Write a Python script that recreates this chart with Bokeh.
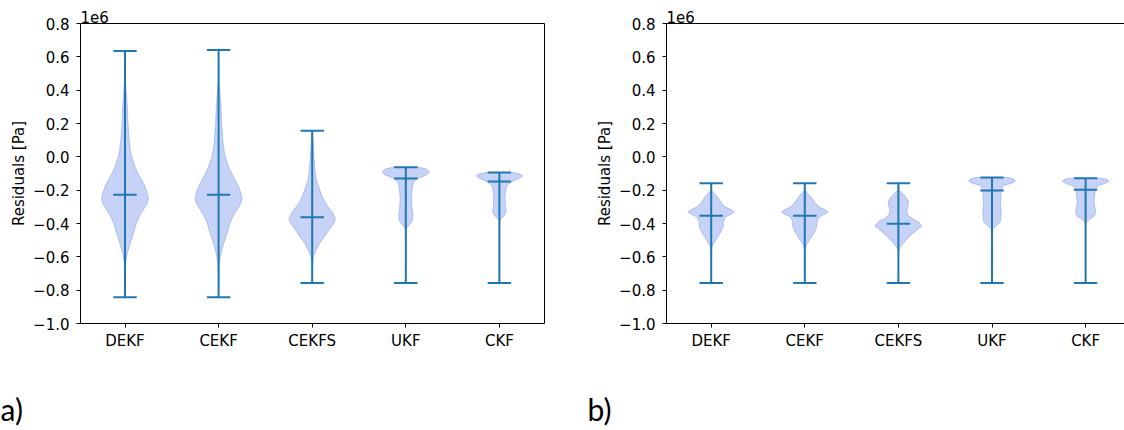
from bokeh.plotting import figure
from bokeh.models import Range1d, FixedTicker, CustomJSTickFormatter, LinearAxis
from bokeh.core.properties import value
from bokeh.layouts import row, column
from bokeh.embed import file_html
from bokeh.resources import INLINE

# Residuals in units of 1e6 Pa
categories = ["DEKF", "CEKF", "CEKFS", "UKF", "CKF"]
positions = [1, 2, 3, 4, 5]
y_ticks = [-1.0, -0.8, -0.6, -0.4, -0.2, 0.0, 0.2, 0.4, 0.6, 0.8]
panel_tags = ["a)", "b)"]

# panel a) extrema and mean
a_max = [0.635, 0.641, 0.156, -0.062, -0.094]
a_min = [-0.842, -0.842, -0.757, -0.757, -0.757]
a_mean = [-0.228, -0.228, -0.363, -0.130, -0.148]

# panel b) extrema and mean
b_max = [-0.158, -0.158, -0.158, -0.124, -0.128]
b_min = [-0.757, -0.757, -0.757, -0.757, -0.757]
b_mean = [-0.353, -0.353, -0.401, -0.202, -0.198]

# density profiles: (residual, relative density), top to bottom
dekf_a = [(0.635, 0.0), (0.45, 0.02), (0.40, 0.05), (0.30, 0.10), (0.20, 0.13),
          (0.10, 0.18), (0.04, 0.23), (0.0, 0.29), (-0.06, 0.43), (-0.10, 0.56),
          (-0.14, 0.72), (-0.18, 0.86), (-0.22, 0.96), (-0.25, 1.0), (-0.28, 0.95),
          (-0.31, 0.82), (-0.35, 0.64), (-0.40, 0.48), (-0.46, 0.36), (-0.52, 0.22),
          (-0.58, 0.10), (-0.64, 0.03), (-0.842, 0.0)]
cekf_a = [(0.641, 0.0), (0.45, 0.02), (0.40, 0.05), (0.30, 0.10), (0.20, 0.13),
          (0.10, 0.18), (0.04, 0.23), (0.0, 0.29), (-0.06, 0.43), (-0.10, 0.56),
          (-0.14, 0.72), (-0.18, 0.86), (-0.22, 0.96), (-0.25, 1.0), (-0.28, 0.95),
          (-0.31, 0.82), (-0.35, 0.64), (-0.40, 0.48), (-0.46, 0.36), (-0.52, 0.22),
          (-0.58, 0.10), (-0.64, 0.03), (-0.842, 0.0)]
cekfs_a = [(0.156, 0.0), (0.12, 0.03), (0.05, 0.06), (0.0, 0.08), (-0.08, 0.12),
           (-0.14, 0.18), (-0.18, 0.28), (-0.22, 0.38), (-0.26, 0.50), (-0.30, 0.68),
           (-0.33, 0.85), (-0.37, 1.0), (-0.40, 0.92), (-0.43, 0.76), (-0.47, 0.57),
           (-0.52, 0.31), (-0.56, 0.17), (-0.60, 0.05), (-0.65, 0.01), (-0.757, 0.0)]
ukf_a = [(-0.062, 0.55), (-0.072, 0.85), (-0.085, 0.98), (-0.095, 1.0), (-0.108, 0.90),
         (-0.118, 0.71), (-0.132, 0.50), (-0.148, 0.36), (-0.165, 0.31), (-0.19, 0.28),
         (-0.24, 0.24), (-0.30, 0.26), (-0.35, 0.31), (-0.38, 0.29), (-0.405, 0.16),
         (-0.43, 0.03), (-0.46, 0.0), (-0.757, 0.0)]
ckf_a = [(-0.094, 0.60), (-0.104, 0.90), (-0.114, 1.0), (-0.126, 0.90), (-0.138, 0.72),
         (-0.155, 0.45), (-0.175, 0.32), (-0.20, 0.27), (-0.24, 0.24), (-0.30, 0.26),
         (-0.33, 0.29), (-0.355, 0.20), (-0.375, 0.05), (-0.40, 0.0), (-0.757, 0.0)]

dekf_b = [(-0.158, 0.0), (-0.20, 0.02), (-0.215, 0.10), (-0.238, 0.26), (-0.268, 0.40),
          (-0.298, 0.57), (-0.318, 0.88), (-0.33, 1.0), (-0.345, 0.85), (-0.36, 0.62),
          (-0.387, 0.52), (-0.417, 0.52), (-0.447, 0.43), (-0.477, 0.30), (-0.507, 0.17),
          (-0.53, 0.06), (-0.56, 0.01), (-0.757, 0.0)]
cekf_b = [(-0.158, 0.0), (-0.20, 0.02), (-0.215, 0.10), (-0.238, 0.26), (-0.268, 0.40),
          (-0.298, 0.57), (-0.318, 0.88), (-0.33, 1.0), (-0.345, 0.85), (-0.36, 0.62),
          (-0.387, 0.52), (-0.417, 0.52), (-0.447, 0.43), (-0.477, 0.30), (-0.507, 0.17),
          (-0.53, 0.06), (-0.56, 0.01), (-0.757, 0.0)]
cekfs_b = [(-0.158, 0.0), (-0.20, 0.03), (-0.215, 0.15), (-0.238, 0.30), (-0.27, 0.44),
           (-0.30, 0.40), (-0.325, 0.36), (-0.35, 0.42), (-0.37, 0.60), (-0.39, 0.86),
           (-0.415, 1.0), (-0.44, 0.78), (-0.47, 0.53), (-0.50, 0.33), (-0.53, 0.14),
           (-0.555, 0.03), (-0.58, 0.0), (-0.757, 0.0)]
ukf_b = [(-0.124, 0.70), (-0.132, 0.92), (-0.145, 1.0), (-0.158, 0.85), (-0.172, 0.52),
         (-0.19, 0.42), (-0.21, 0.39), (-0.277, 0.36), (-0.337, 0.40), (-0.387, 0.36),
         (-0.405, 0.25), (-0.42, 0.14), (-0.435, 0.03), (-0.46, 0.0), (-0.757, 0.0)]
ckf_b = [(-0.128, 0.70), (-0.136, 0.92), (-0.148, 1.0), (-0.16, 0.82), (-0.174, 0.54),
         (-0.195, 0.43), (-0.218, 0.40), (-0.277, 0.36), (-0.327, 0.43), (-0.355, 0.38),
         (-0.375, 0.18), (-0.39, 0.04), (-0.41, 0.0), (-0.757, 0.0)]

profiles_a = [dekf_a, cekf_a, cekfs_a, ukf_a, ckf_a]
profiles_b = [dekf_b, cekf_b, cekfs_b, ukf_b, ckf_b]

LINE = "#1f77b4"
BODY = "#4169e1"
FONT = "DejaVu Sans"
FS = "15px"
HALF_BODY = 0.25   # max half-width of a violin body, x units
HALF_CAP = 0.125   # half-width of the extrema / mean bars


def bare_axis():
    return LinearAxis(ticker=FixedTicker(ticks=[]), axis_line_color="black",
                      axis_line_width=1, major_tick_line_color=None,
                      major_tick_out=0, major_tick_in=0, major_label_standoff=0,
                      minor_tick_line_color=None, major_label_text_font_size="0px")


def make_panel(width, left, right, x_start, x_end, profiles, vmax, vmin, vmean,
               with_right_spine):
    p = figure(width=width, height=360, output_backend="svg", toolbar_location=None,
               x_range=Range1d(x_start, x_end), y_range=Range1d(-1.0, 0.8),
               min_border_left=left, min_border_right=right,
               min_border_top=23, min_border_bottom=37,
               background_fill_color="white", border_fill_color="white")
    p.outline_line_color = None
    p.grid.visible = False

    # violin bodies
    xs, ys = [], []
    for pos, prof in zip(positions, profiles):
        vals = [v for v, w in prof]
        dens = [w for v, w in prof]
        right_side = [pos + HALF_BODY * w for w in dens]
        left_side = [pos - HALF_BODY * w for w in dens]
        xs.append(right_side + left_side[::-1])
        ys.append(vals + vals[::-1])
    p.patches(xs, ys, fill_color=BODY, fill_alpha=0.3,
              line_color=BODY, line_alpha=0.3, line_width=1)

    # extrema bars, centre line and mean bars
    p.segment(x0=positions, y0=vmin, x1=positions, y1=vmax,
              line_color=LINE, line_width=2)
    for vals in (vmax, vmin, vmean):
        p.segment(x0=[q - HALF_CAP for q in positions], y0=vals,
                  x1=[q + HALF_CAP for q in positions], y1=vals,
                  line_color=LINE, line_width=2)

    # axes
    p.xaxis.ticker = FixedTicker(ticks=positions)
    p.xaxis.major_label_overrides = {q: c for q, c in zip(positions, categories)}
    p.yaxis.ticker = FixedTicker(ticks=y_ticks)
    p.yaxis.formatter = CustomJSTickFormatter(
        code="return (tick < -1e-9 ? '\\u2212' : '') + Math.abs(tick).toFixed(1);")
    p.yaxis.axis_label = "Residuals [Pa]"
    for ax in (p.xaxis[0], p.yaxis[0]):
        ax.axis_line_color = "black"
        ax.axis_line_width = 1
        ax.major_tick_line_color = "black"
        ax.major_tick_line_width = 1
        ax.major_tick_out = 4
        ax.major_tick_in = 0
        ax.minor_tick_line_color = None
        ax.major_label_text_font = FONT
        ax.major_label_text_font_size = FS
        ax.major_label_text_color = "black"
        ax.axis_label_text_font = FONT
        ax.axis_label_text_font_size = FS
        ax.axis_label_text_font_style = "normal"
        ax.axis_label_text_color = "black"
    p.xaxis.major_label_standoff = 4
    p.yaxis.major_label_standoff = 7
    p.yaxis.axis_label_standoff = 2

    p.add_layout(bare_axis(), "above")
    if with_right_spine:
        p.add_layout(bare_axis(), "right")

    # offset text of the y scale, above the top-left corner
    p.title.text = "1e6"
    p.title.align = "left"
    p.title.text_font = FONT
    p.title.text_font_size = FS
    p.title.text_font_style = "normal"
    p.title.text_color = "black"
    p.title.standoff = 2
    p.title.offset = 0
    return p


PX = 93.6  # pixels per category step
xa0 = 1 - 44.5 / PX
pa = make_panel(566, 80, 22, xa0, xa0 + 464 / PX, profiles_a, a_max, a_min, a_mean, True)
xb0 = 1 - 44.7 / PX
pb = make_panel(558, 100, 0, xb0, xb0 + 458 / PX, profiles_b, b_max, b_min, b_mean, False)

# strip below both panels carrying the panel tags (pixel coordinates)
tags = figure(width=1124, height=70, output_backend="svg", toolbar_location=None,
              x_range=Range1d(0, 1124), y_range=Range1d(0, 70),
              x_axis_type=None, y_axis_type=None,
              min_border=0, background_fill_color="white", border_fill_color="white")
tags.outline_line_color = None
tags.grid.visible = False
tags.text(x=[0, 587], y=[22, 22], text=panel_tags, text_font=value("Lato"),
          text_font_size="30px", text_color="black",
          text_align="left", text_baseline="alphabetic")

layout = column(row(pa, pb, spacing=0), tags, spacing=0)
open("out.html", "w").write(file_html(layout, INLINE))
